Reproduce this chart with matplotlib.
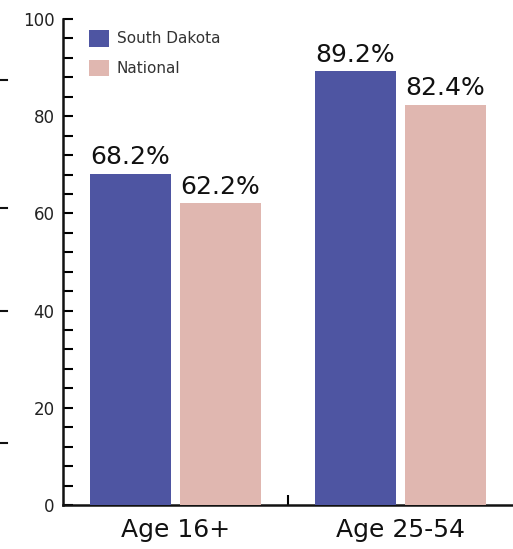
import matplotlib
matplotlib.use("Agg")
import matplotlib.pyplot as plt
from matplotlib.ticker import MultipleLocator, FixedLocator
from matplotlib.lines import Line2D
import numpy as np

categories = ["Age 16+", "Age 25-54"]
series_names = ["South Dakota", "National"]
south_dakota = [68.2, 89.2]
national = [62.2, 82.4]
value_labels_sd = ["68.2%", "89.2%"]
value_labels_nat = ["62.2%", "82.4%"]
y_ticks = [0, 20, 40, 60, 80, 100]

plt.rcParams['font.family'] = ['DejaVu Sans']

W, H = 513, 549
fig = plt.figure(figsize=(W / 100, H / 100), dpi=100)
ax = fig.add_axes([63 / W, (H - 505) / H, (W - 63) / W, (505 - 19) / H])

blue = "#4E55A2"
pink = "#E0B7B0"
x = np.arange(len(categories))
bw = 0.363
off = 0.2
b1 = ax.bar(x - off, south_dakota, bw, color=blue, label=series_names[0], zorder=3)
b2 = ax.bar(x + off, national, bw, color=pink, label=series_names[1], zorder=3)

for rect, lab in zip(b1, value_labels_sd):
    ax.annotate(lab, (rect.get_x() + rect.get_width() / 2, rect.get_height()),
                xytext=(0, 3), textcoords="offset points", ha="center", va="bottom",
                fontsize=18, color="#111111")
for rect, lab in zip(b2, value_labels_nat):
    ax.annotate(lab, (rect.get_x() + rect.get_width() / 2, rect.get_height()),
                xytext=(0, 3), textcoords="offset points", ha="center", va="bottom",
                fontsize=18, color="#111111")

ax.set_xlim(-0.5, 1.5)
ax.set_ylim(0, 100)
ax.set_yticks(y_ticks)
ax.yaxis.set_minor_locator(MultipleLocator(4))
ax.tick_params(axis="y", which="both", direction="in", length=7.5, width=1.5,
               labelsize=12, pad=6, labelcolor="#222222")

ax.set_xticks(x)
ax.set_xticklabels(categories, fontsize=18, color="#111111")
ax.tick_params(axis="x", which="major", length=0, pad=9)
ax.xaxis.set_minor_locator(FixedLocator([0.5]))
ax.tick_params(axis="x", which="minor", direction="in", length=7.5, width=1.5)

for s in ["top", "right"]:
    ax.spines[s].set_visible(False)
for s in ["left", "bottom"]:
    ax.spines[s].set_linewidth(1.8)
    ax.spines[s].set_color("#111111")

leg = ax.legend(loc="upper left", frameon=False, fontsize=11, handlelength=1.3,
                handleheight=1.3, labelspacing=0.85, handletextpad=0.5,
                bbox_to_anchor=(0.045, 0.99), borderaxespad=0)
for t in leg.get_texts():
    t.set_color("#333333")

# small stray marks at left edge of the image
for yy in [80, 208, 311, 443]:
    fig.add_artist(Line2D([0, 7 / W], [1 - yy / H, 1 - yy / H], transform=fig.transFigure,
                          color="#111111", linewidth=1.5))

fig.savefig("out.png", dpi=100)
